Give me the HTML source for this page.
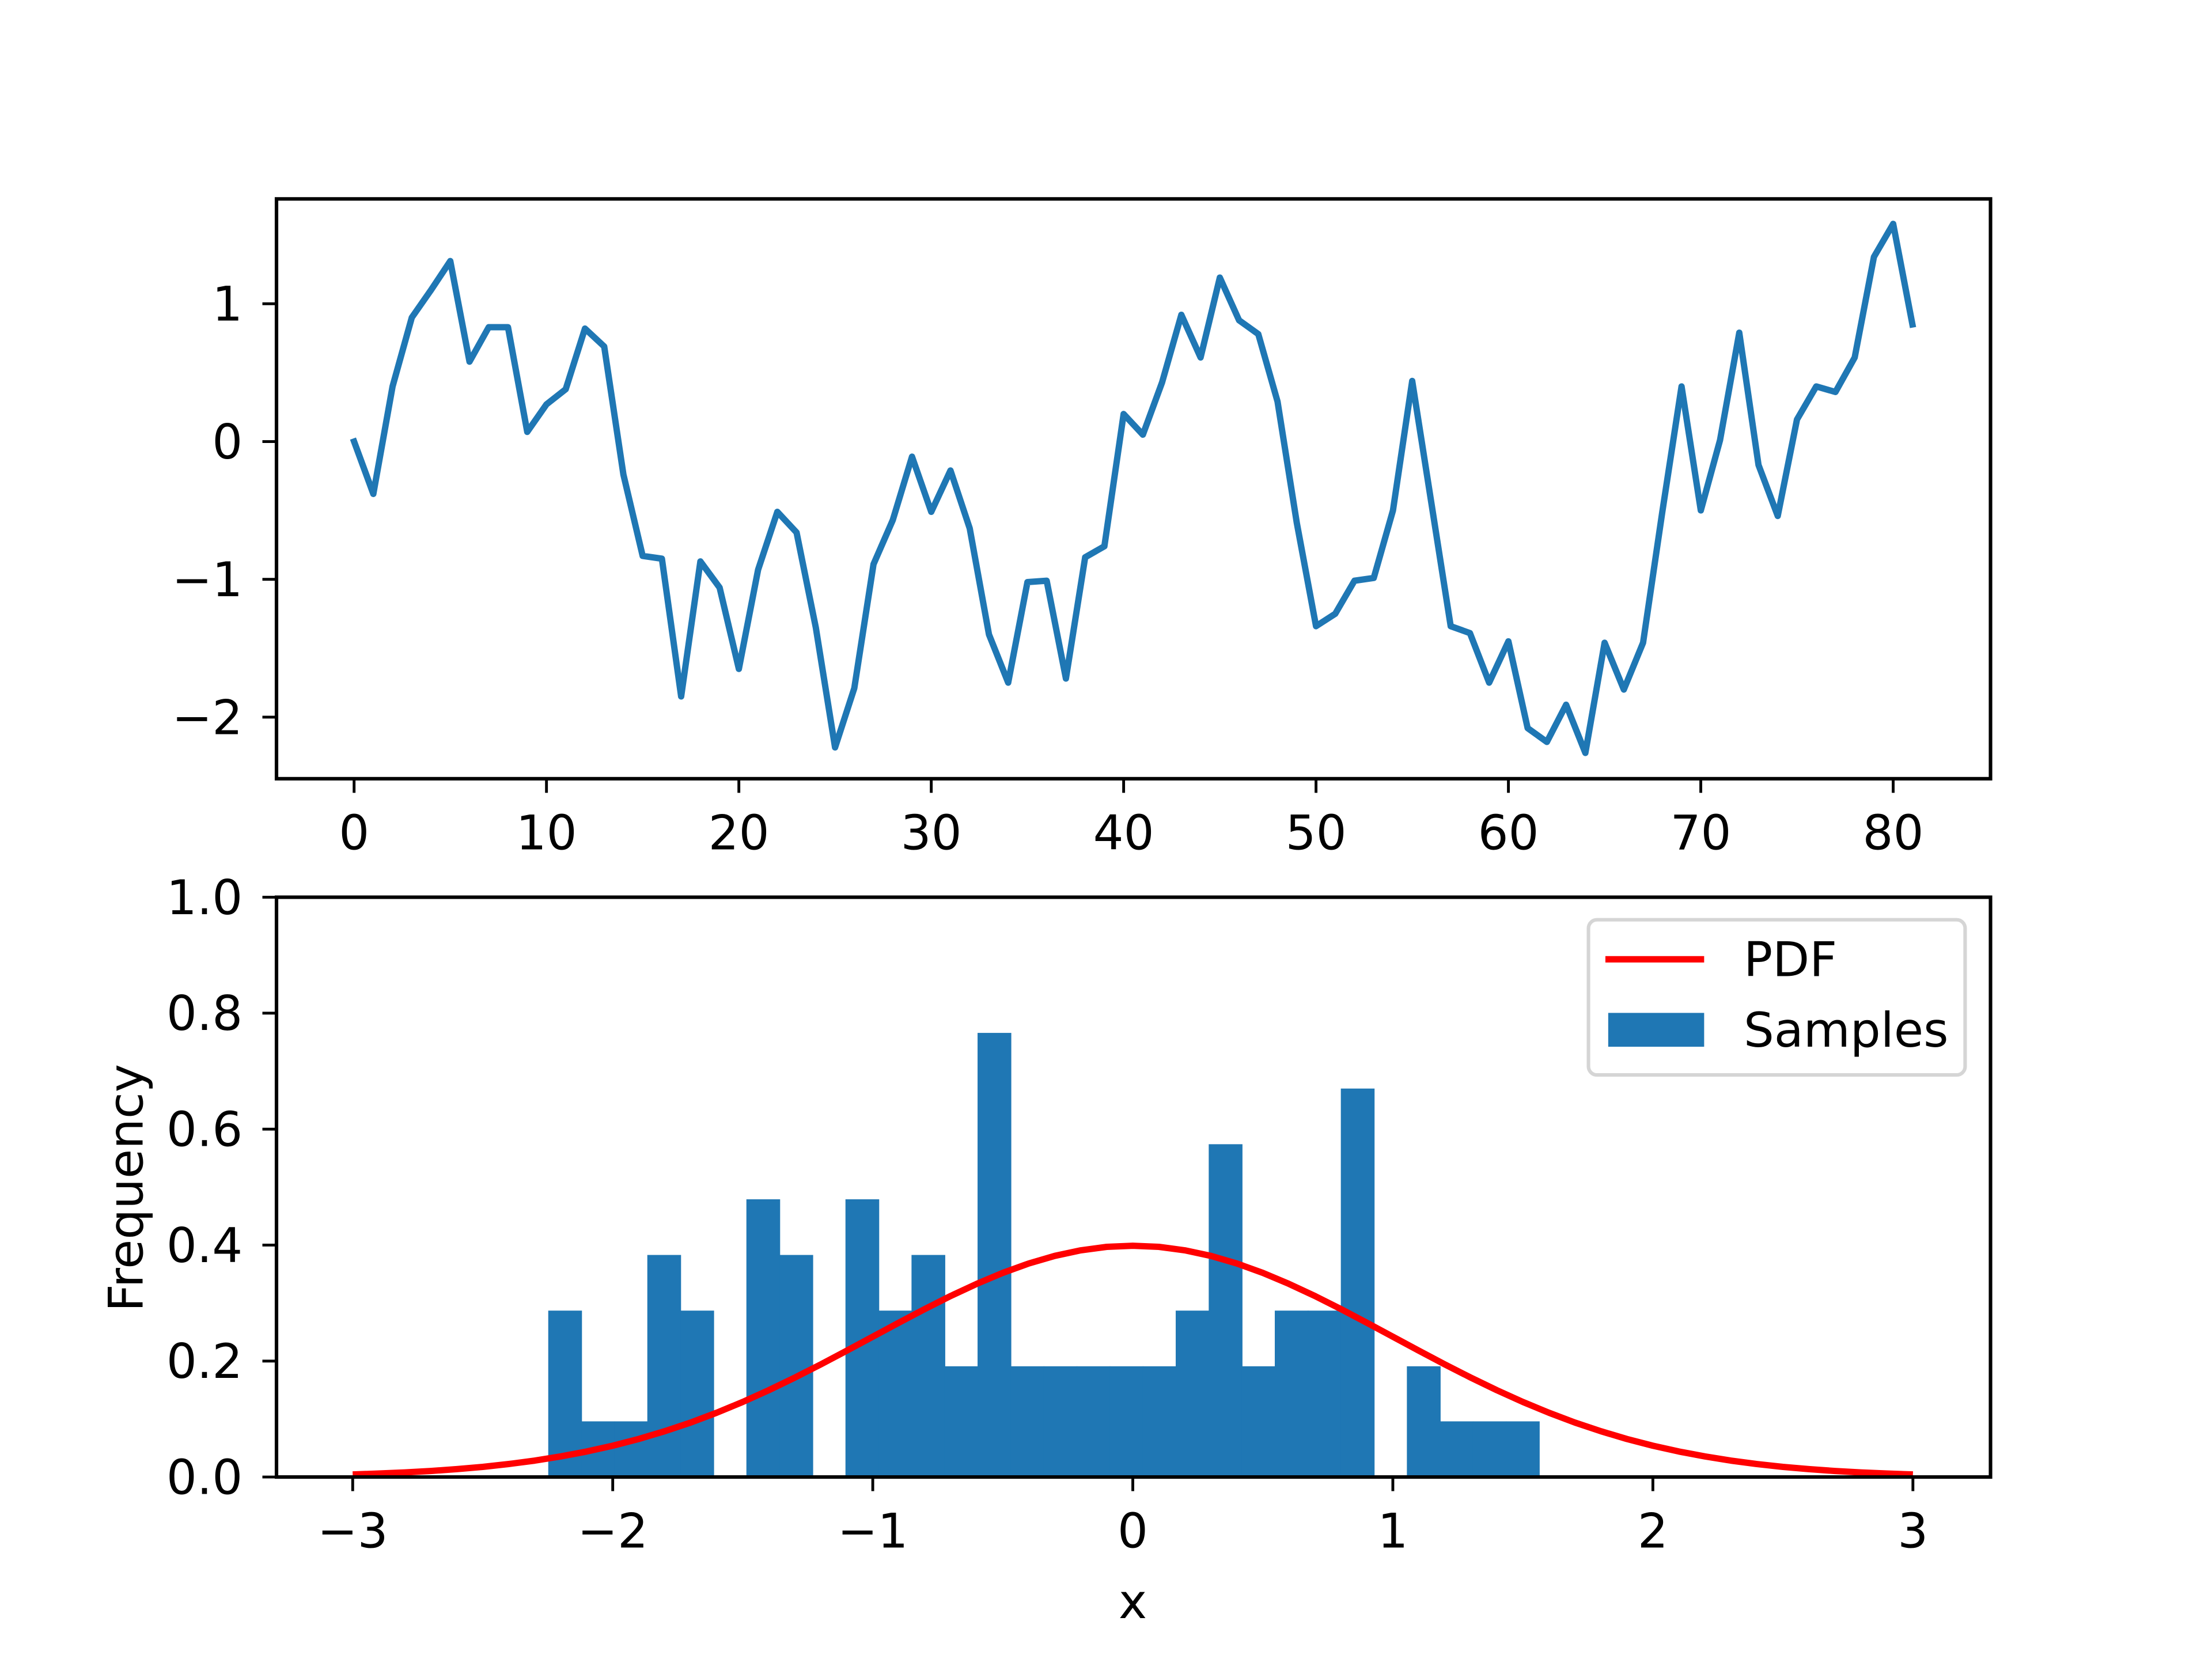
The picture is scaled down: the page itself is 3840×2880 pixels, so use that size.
<!DOCTYPE html>
<html><head><meta charset="utf-8"><style>
html,body{margin:0;padding:0;background:#fff}
svg{display:block}
text{font-family:"DejaVu Sans","Liberation Sans",sans-serif;font-size:34px;fill:#000}
</style></head><body>
<svg id="chart" width="3840" height="2880" viewBox="0 0 1568 1176" xmlns="http://www.w3.org/2000/svg">
<rect width="1568" height="1176" fill="#fff"/>
<g id="topAxes"></g>
<g id="botAxes"></g>
<text x="803" y="1147" text-anchor="middle">x</text>
<text transform="translate(101,842) rotate(-90)" text-anchor="middle">Frequency</text>
<g>
<rect x="1126" y="652" width="267" height="110" rx="6" fill="#fff" stroke="#d5d5d5" stroke-width="2.5"/>
<line x1="1138" y1="680" x2="1208" y2="680" stroke="#ff0000" stroke-width="4.5"/>
<text x="1236" y="692">PDF</text>
<rect x="1140" y="718" width="68" height="24" fill="#1f77b4"/>
<text x="1236" y="742">Samples</text>
</g>
</svg>
<script>
const lineValues=[0.0,-0.38,0.4,0.9,1.1,1.31,0.58,0.83,0.83,0.07,0.27,0.38,0.82,0.69,-0.24,-0.83,-0.85,-1.85,-0.87,-1.06,-1.65,-0.93,-0.51,-0.66,-1.35,-2.22,-1.79,-0.89,-0.57,-0.11,-0.51,-0.21,-0.63,-1.4,-1.75,-1.02,-1.01,-1.72,-0.84,-0.76,0.2,0.05,0.43,0.92,0.61,1.19,0.88,0.78,0.29,-0.59,-1.34,-1.25,-1.01,-0.99,-0.5,0.44,-0.45,-1.34,-1.39,-1.75,-1.45,-2.08,-2.18,-1.91,-2.26,-1.46,-1.8,-1.46,-0.51,0.4,-0.5,0.01,0.79,-0.17,-0.54,0.16,0.4,0.36,0.61,1.34,1.58,0.85];
const topXTicks=[0,10,20,30,40,50,60,70,80];
const topYTicks=[1,0,-1,-2];
const histHeights=[0.287,0.096,0.096,0.383,0.287,0,0.479,0.383,0,0.479,0.287,0.383,0.191,0.766,0.191,0.191,0.191,0.191,0.191,0.287,0.574,0.191,0.287,0.287,0.670,0,0.191,0.096,0.096,0.096];
const histStart=-2.248;
const histBinWidth=0.127;
const pdfHalf=[0.3989,0.3970,0.3910,0.3814,0.3683,0.3521,0.3332,0.3123,0.2897,0.2661,0.2420,0.2179,0.1942,0.1714,0.1497,0.1295,0.1109,0.0940,0.0790,0.0656,0.0540,0.0440,0.0355,0.0283,0.0224,0.0175,0.0136,0.0104,0.0079,0.0060,0.0044];
const pdfY=pdfHalf.slice().reverse().concat(pdfHalf.slice(1));
const pdfXStart=-3, pdfXStep=0.1;
const botXTicks=[-3,-2,-1,0,1,2,3];
const botYTicks=[0,0.2,0.4,0.6,0.8,1.0];

const NS='http://www.w3.org/2000/svg';
function mk(tag,attrs,parent){const e=document.createElementNS(NS,tag);for(const k in attrs)e.setAttribute(k,attrs[k]);parent.appendChild(e);return e;}
function lbl(v,dec){let s=dec?v.toFixed(1):String(v);return s.replace('-','\u2212');}
const L=196,R=1411;
const tx=v=>251+v*13.6375, ty=v=>313-v*97.67;
const topG=document.getElementById('topAxes');
const pts=lineValues.map((v,i)=>tx(i).toFixed(2)+','+ty(v).toFixed(2)).join(' ');
const pl=mk('polyline',{points:pts,fill:'none',stroke:'#1f77b4','stroke-width':4.5,'stroke-linejoin':'round','stroke-linecap':'square'},topG);


const tf=mk('rect',{x:L,y:141,width:R-L,height:411,fill:'none',stroke:'#000','stroke-width':2.5},topG);


topXTicks.forEach(v=>{const x=tx(v);mk('line',{x1:x,y1:552,x2:x,y2:562,stroke:'#000','stroke-width':2},topG);
 const t=mk('text',{x:x,y:602,'text-anchor':'middle'},topG);t.textContent=lbl(v);
 
 });
topYTicks.forEach(v=>{const y=ty(v);mk('line',{x1:L-10,y1:y,x2:L,y2:y,stroke:'#000','stroke-width':2},topG);
 const t=mk('text',{x:172,y:y+12,'text-anchor':'end'},topG);t.textContent=lbl(v);
 
 });
const bx=v=>803+v*184.33, by=v=>1047-v*411;
const botG=document.getElementById('botAxes');
histHeights.forEach((h,i)=>{if(h<=0)return;const x0=bx(histStart+i*histBinWidth),x1=bx(histStart+(i+1)*histBinWidth);
 const r=mk('rect',{x:x0,y:by(h),width:x1-x0+0.5,height:by(0)-by(h),fill:'#1f77b4'},botG);
 
 });
const pp=mk('polyline',{points:pdfY.map((y,i)=>bx(pdfXStart+i*pdfXStep).toFixed(2)+','+by(y).toFixed(2)).join(' '),fill:'none',stroke:'#ff0000','stroke-width':4.5,'stroke-linejoin':'round'},botG);


const bf=mk('rect',{x:L,y:636,width:R-L,height:411,fill:'none',stroke:'#000','stroke-width':2.5},botG);


botXTicks.forEach(v=>{const x=bx(v);mk('line',{x1:x,y1:1047,x2:x,y2:1057,stroke:'#000','stroke-width':2},botG);
 const t=mk('text',{x:x,y:1097,'text-anchor':'middle'},botG);t.textContent=lbl(v);
 
 });
botYTicks.forEach(v=>{const y=by(v);mk('line',{x1:L-10,y1:y,x2:L,y2:y,stroke:'#000','stroke-width':2},botG);
 const t=mk('text',{x:172,y:y+12,'text-anchor':'end'},botG);t.textContent=lbl(v,true);
 
 });
</script>
</body></html>
